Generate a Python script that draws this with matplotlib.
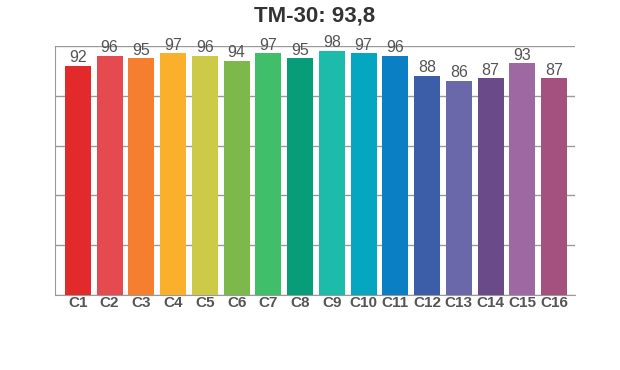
import matplotlib.pyplot as plt

plt.rcParams['font.family'] = ['Liberation Sans', 'DejaVu Sans']

# Dados
categorias = ['C1', 'C2', 'C3', 'C4', 'C5', 'C6', 'C7', 'C8',
              'C9', 'C10', 'C11', 'C12', 'C13', 'C14', 'C15', 'C16']
valores = [92, 96, 95, 97, 96, 94, 97, 95, 98, 97, 96, 88, 86, 87, 93, 87]
cores = ['#E32A2A', '#E54A50', '#F57F2E', '#FBB02B', '#CDCA48', '#7DB84B',
         '#40BE6A', '#069D78', '#1CBBAA', '#05A6C0', '#0A7FC3', '#3C5DA7',
         '#6B67AB', '#6A4B87', '#9E68A2', '#A5517F']
titulo = 'TM-30: 93,8'

fig = plt.figure(figsize=(6.2, 3.7), dpi=100)
ax = fig.add_axes([0.0887, 0.2027, 0.8387, 0.673])

x = range(len(categorias))
barras = ax.bar(x, valores, width=0.82, color=cores, zorder=3)

ax.set_xlim(-0.72, len(categorias) - 0.34)
ax.set_ylim(0, 100)
ax.set_yticks([0, 20, 40, 60, 80, 100])
ax.set_yticklabels([])
ax.tick_params(axis='y', length=0)
ax.tick_params(axis='x', length=0, pad=1)
ax.grid(axis='y', color='#999999', linewidth=1, zorder=0)

ax.set_xticks(list(x))
ax.set_xticklabels(categorias, fontsize=11, fontweight='bold', color='#555555')

for s in ['top', 'right']:
    ax.spines[s].set_visible(False)
ax.spines['left'].set_color('#999999')
ax.spines['bottom'].set_color('#999999')

for b, v in zip(barras, valores):
    ax.text(b.get_x() + b.get_width() / 2, v + 0.3, str(v), ha='center',
            va='bottom', fontsize=11.5, color='#555555', zorder=4)

fig.suptitle(titulo, x=0.507, y=0.985, fontsize=16, fontweight='bold', color='#333333')

fig.savefig('out.png', dpi=100)
